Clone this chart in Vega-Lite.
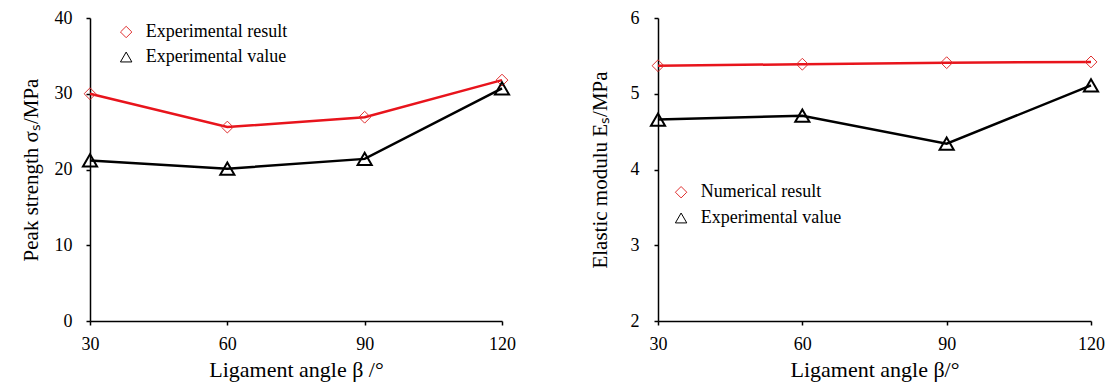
{
  "$schema": "https://vega.github.io/schema/vega-lite/v6.json",
  "padding": {"left": 20, "top": 9, "right": 5, "bottom": 5},
  "background": "white",
  "config": {
    "font": "Liberation Serif",
    "view": {"stroke": null},
    "axis": {
      "domainColor": "black", "domainWidth": 1.5, "tickColor": "black", "tickWidth": 1.5, "tickSize": 4,
      "labelFont": "Liberation Serif", "labelFontSize": 18, "labelColor": "black",
      "titleFont": "Liberation Serif", "titleFontSize": 21, "titleFontWeight": "normal", "titleColor": "black",
      "grid": false
    }
  },
  "resolve": {
    "scale": {"color": "independent", "shape": "independent", "stroke": "independent"}
  },
  "spacing": 73,
  "hconcat": [
    {
      "width": 412,
      "height": 303,
      "data": {"values": [
        {"angle": 30, "value": 30.0, "series": "Experimental result"},
        {"angle": 60, "value": 25.6, "series": "Experimental result"},
        {"angle": 90, "value": 26.9, "series": "Experimental result"},
        {"angle": 120, "value": 31.8, "series": "Experimental result"},
        {"angle": 30, "value": 21.2, "series": "Experimental value"},
        {"angle": 60, "value": 20.1, "series": "Experimental value"},
        {"angle": 90, "value": 21.4, "series": "Experimental value"},
        {"angle": 120, "value": 30.7, "series": "Experimental value"}
      ]},
      "encoding": {
        "x": {"field": "angle", "type": "quantitative", "scale": {"domain": [30, 120]},
              "axis": {"values": [30, 60, 90, 120], "labelFlush": false, "title": "Ligament angle β /°", "titleFontSize": 22, "labelPadding": 10, "titlePadding": 6}},
        "y": {"field": "value", "type": "quantitative", "scale": {"domain": [0, 40]},
              "axis": {"values": [0, 10, 20, 30, 40], "title": "Peak strength σₛ/MPa", "labelPadding": 14, "titlePadding": 13}}
      },
      "layer": [
        {
          "mark": {"type": "line", "strokeWidth": 2.5},
          "encoding": {
            "stroke": {"field": "series", "type": "nominal",
                       "scale": {"domain": ["Experimental result", "Experimental value"], "range": ["#e8141c", "black"]}, "legend": null}
          }
        },
        {
          "transform": [{"filter": "datum.series === 'Experimental result'"}],
          "mark": {"type": "point", "filled": false, "size": 140, "strokeWidth": 1, "shape": "diamond", "color": "#e03030", "opacity": 1},
          "encoding": {}
        },
        {
          "transform": [{"filter": "datum.series === 'Experimental value'"}],
          "mark": {"type": "point", "filled": false, "size": 200, "strokeWidth": 2, "shape": "triangle-up", "color": "black", "opacity": 1},
          "encoding": {}
        },
        {
          "transform": [{"filter": "datum.series === 'Experimental result' && datum.angle === 30"}],
          "mark": {"type": "point", "filled": false, "size": 130, "strokeWidth": 1, "shape": "diamond", "color": "#e03030", "opacity": 1},
          "encoding": {"x": {"datum": 37.9}, "y": {"datum": 38.15}}
        },
        {
          "transform": [{"filter": "datum.series === 'Experimental value' && datum.angle === 30"}],
          "mark": {"type": "point", "filled": false, "size": 130, "strokeWidth": 1, "shape": "triangle-up", "color": "black", "opacity": 1},
          "encoding": {"x": {"datum": 37.9}, "y": {"datum": 34.85}}
        },
        {
          "transform": [{"filter": "datum.series === 'Experimental result' && datum.angle === 30"}],
          "mark": {"type": "text", "align": "left", "baseline": "middle", "font": "Liberation Serif", "fontSize": 18, "color": "black"},
          "encoding": {"x": {"datum": 42.2}, "y": {"datum": 38.15}, "text": {"field": "series"}}
        },
        {
          "transform": [{"filter": "datum.series === 'Experimental value' && datum.angle === 30"}],
          "mark": {"type": "text", "align": "left", "baseline": "middle", "font": "Liberation Serif", "fontSize": 18, "color": "black"},
          "encoding": {"x": {"datum": 42.2}, "y": {"datum": 34.85}, "text": {"field": "series"}}
        }
      ]
    },
    {
      "width": 433,
      "height": 303,
      "data": {"values": [
        {"angle": 30, "value": 5.37, "series": "Numerical result"},
        {"angle": 60, "value": 5.39, "series": "Numerical result"},
        {"angle": 90, "value": 5.41, "series": "Numerical result"},
        {"angle": 120, "value": 5.42, "series": "Numerical result"},
        {"angle": 30, "value": 4.66, "series": "Experimental value"},
        {"angle": 60, "value": 4.71, "series": "Experimental value"},
        {"angle": 90, "value": 4.34, "series": "Experimental value"},
        {"angle": 120, "value": 5.11, "series": "Experimental value"}
      ]},
      "encoding": {
        "x": {"field": "angle", "type": "quantitative", "scale": {"domain": [30, 120]},
              "axis": {"values": [30, 60, 90, 120], "labelFlush": false, "title": "Ligament angle β/°", "titleFontSize": 22, "labelPadding": 10, "titlePadding": 6}},
        "y": {"field": "value", "type": "quantitative", "scale": {"domain": [2, 6]},
              "axis": {"values": [2, 3, 4, 5, 6], "title": "Elastic modulu Eₛ/MPa", "labelPadding": 15, "titlePadding": 20}}
      },
      "layer": [
        {
          "mark": {"type": "line", "strokeWidth": 2.5},
          "encoding": {
            "stroke": {"field": "series", "type": "nominal",
                       "scale": {"domain": ["Numerical result", "Experimental value"], "range": ["#e8141c", "black"]}, "legend": null}
          }
        },
        {
          "transform": [{"filter": "datum.series === 'Numerical result'"}],
          "mark": {"type": "point", "filled": false, "size": 140, "strokeWidth": 1, "shape": "diamond", "color": "#e03030", "opacity": 1},
          "encoding": {}
        },
        {
          "transform": [{"filter": "datum.series === 'Experimental value'"}],
          "mark": {"type": "point", "filled": false, "size": 200, "strokeWidth": 2, "shape": "triangle-up", "color": "black", "opacity": 1},
          "encoding": {}
        },
        {
          "transform": [{"filter": "datum.series === 'Numerical result' && datum.angle === 30"}],
          "mark": {"type": "point", "filled": false, "size": 130, "strokeWidth": 1, "shape": "diamond", "color": "#e03030", "opacity": 1},
          "encoding": {"x": {"datum": 34.8}, "y": {"datum": 3.70}}
        },
        {
          "transform": [{"filter": "datum.series === 'Experimental value' && datum.angle === 30"}],
          "mark": {"type": "point", "filled": false, "size": 130, "strokeWidth": 1, "shape": "triangle-up", "color": "black", "opacity": 1},
          "encoding": {"x": {"datum": 34.8}, "y": {"datum": 3.36}}
        },
        {
          "transform": [{"filter": "datum.series === 'Numerical result' && datum.angle === 30"}],
          "mark": {"type": "text", "align": "left", "baseline": "middle", "font": "Liberation Serif", "fontSize": 18, "color": "black"},
          "encoding": {"x": {"datum": 38.9}, "y": {"datum": 3.70}, "text": {"field": "series"}}
        },
        {
          "transform": [{"filter": "datum.series === 'Experimental value' && datum.angle === 30"}],
          "mark": {"type": "text", "align": "left", "baseline": "middle", "font": "Liberation Serif", "fontSize": 18, "color": "black"},
          "encoding": {"x": {"datum": 38.9}, "y": {"datum": 3.36}, "text": {"field": "series"}}
        }
      ]
    }
  ]
}
